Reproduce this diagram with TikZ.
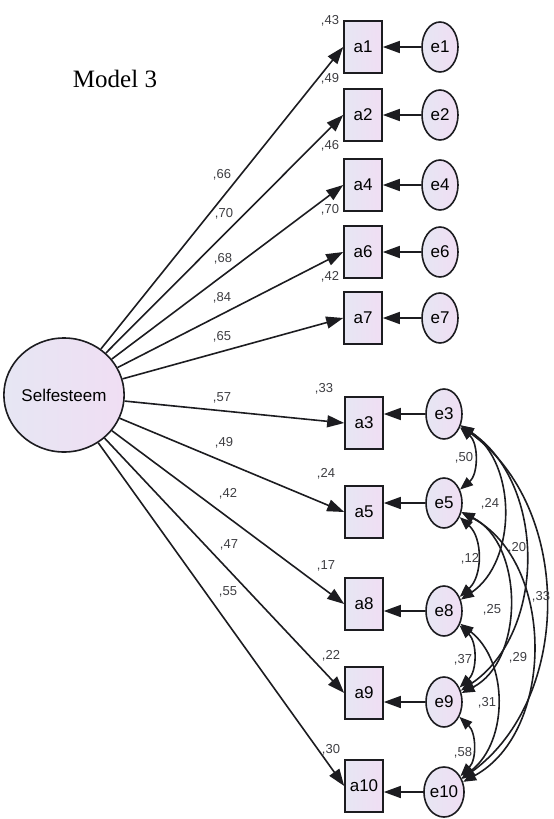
\documentclass[tikz,border=0pt]{standalone}
\usepackage{fontspec}
\setmainfont{Liberation Sans}
\newfontfamily\titlefont{Liberation Serif}
\usetikzlibrary{shapes.geometric,arrows.meta}
\definecolor{lavl}{RGB}{230,230,243}
\definecolor{lavr}{RGB}{240,222,243}
\definecolor{ink}{RGB}{28,28,32}
\newcommand{\nodefont}{\fontsize{17}{17}\selectfont}
\newcommand{\numfont}{\fontsize{13}{13}\selectfont}

\begin{document}
\begin{tikzpicture}[x=1pt,y=1pt,
		obs/.style={draw=ink, line width=1.6pt, left color=lavl, right color=lavr, minimum width=38pt, minimum height=52pt, inner sep=0pt, font=\nodefont},
		err/.style={ellipse, draw=ink, line width=1.6pt, left color=lavl, right color=lavr, minimum width=36pt, minimum height=50pt, inner sep=0pt, font=\nodefont},
		num/.style={font=\numfont, text=ink!85, inner sep=1pt},
		loading/.style={-{Triangle[length=17pt,width=12pt]}, line width=1.6pt, ink},
		cov/.style={{Triangle[length=13pt,width=10pt]}-{Triangle[length=13pt,width=10pt]}, line width=1.6pt, ink, looseness=1}]
		\useasboundingbox (0,0) rectangle (554,-819);

		\node[font=\titlefont\fontsize{25}{25}\selectfont] (title) at (115,-79) {Model 3};

		% latent factor
		\node[ellipse, draw=ink, line width=1.6pt, left color=lavl, right color=lavr, minimum width=102pt, minimum height=114pt, inner sep=0pt, font=\nodefont] (self) at (64,-395) {Selfesteem};

		% indicators
		\node[obs] (a1) at (363,-47) {a1};
		\node[obs] (a2) at (363,-115) {a2};
		\node[obs] (a4) at (363,-185) {a4};
		\node[obs] (a6) at (363,-252) {a6};
		\node[obs] (a7) at (363,-318) {a7};
		\node[obs] (a3) at (364,-423) {a3};
		\node[obs] (a5) at (364,-512) {a5};
		\node[obs] (a8) at (364,-604) {a8};
		\node[obs] (a9) at (364,-693) {a9};
		\node[obs] (a10) at (364,-786) {a10};

		% errors
		\node[err] (e1) at (440,-47) {e1};
		\node[err] (e2) at (440,-115) {e2};
		\node[err] (e4) at (440,-185) {e4};
		\node[err] (e6) at (440,-252) {e6};
		\node[err] (e7) at (440,-318) {e7};
		\node[err] (e3) at (444,-414) {e3};
		\node[err] (e5) at (444,-503) {e5};
		\node[err] (e8) at (444,-611) {e8};
		\node[err] (e9) at (444,-702) {e9};
		\node[err] (e10) at (444,-792) {e10};

		% loadings
		\draw[loading] (self) -- (a1.west);
		\draw[loading] (self) -- (a2.west);
		\draw[loading] (self) -- (a4.west);
		\draw[loading] (self) -- (a6.west);
		\draw[loading] (self) -- (a7.west);
		\draw[loading] (self) -- (a3.west);
		\draw[loading] (self) -- (a5.west);
		\draw[loading] (self) -- (a8.west);
		\draw[loading] (self) -- (a9.west);
		\draw[loading] (self) -- (a10.west);

		\node[num] (pa1) at (222,-175) {,66};
		\node[num] (pa2) at (224,-214) {,70};
		\node[num] (pa4) at (223,-259) {,68};
		\node[num] (pa6) at (222,-298) {,84};
		\node[num] (pa7) at (222,-337) {,65};
		\node[num] (pa3) at (222,-398) {,57};
		\node[num] (pa5) at (224,-443) {,49};
		\node[num] (pa8) at (228,-494) {,42};
		\node[num] (pa9) at (229,-545) {,47};
		\node[num] (pa10) at (228,-592) {,55};

		% error paths
		\draw[loading] (e1) -- (a1);
		\draw[loading] (e2) -- (a2);
		\draw[loading] (e4) -- (a4);
		\draw[loading] (e6) -- (a6);
		\draw[loading] (e7) -- (a7);
		\draw[loading] (e3) -- (e3 -| a3.east);
		\draw[loading] (e5) -- (e5 -| a5.east);
		\draw[loading] (e8) -- (e8 -| a8.east);
		\draw[loading] (e9) -- (e9 -| a9.east);
		\draw[loading] (e10) -- (e10 -| a10.east);

		% squared multiple correlations
		\node[num, anchor=east] (va1) at ([xshift=-3pt,yshift=-1pt]a1.north west) {,43};
		\node[num, anchor=south east] (va2) at ([xshift=-3pt,yshift=3pt]a2.north west) {,49};
		\node[num, anchor=south east] (va4) at ([xshift=-3pt,yshift=6pt]a4.north west) {,46};
		\node[num, anchor=south east] (va6) at ([xshift=-3pt,yshift=9pt]a6.north west) {,70};
		\node[num, anchor=south east] (va7) at ([xshift=-3pt,yshift=8pt]a7.north west) {,42};
		\node[num, anchor=south east] (va3) at ([xshift=-10pt,yshift=1pt]a3.north west) {,33};
		\node[num, anchor=south east] (va5) at ([xshift=-8pt,yshift=5pt]a5.north west) {,24};
		\node[num, anchor=south east] (va8) at ([xshift=-8pt,yshift=5pt]a8.north west) {,17};
		\node[num, anchor=south east] (va9) at ([xshift=-3pt,yshift=4pt]a9.north west) {,22};
		\node[num, anchor=south east] (va10) at ([xshift=-3pt,yshift=3pt]a10.north west) {,30};

		% error covariances
		\draw[cov] (e3) to[bend left=50] (e5);
		\draw[cov] (e3) to[bend left=56] (e8);
		\draw[cov] (e3) to[bend left=56] (e9);
		\draw[cov] (e3) to[bend left=54] (e10);
		\draw[cov] (e5) to[bend left=48] (e8);
		\draw[cov] (e5) to[bend left=63] (e9);
		\draw[cov] (e5) to[bend left=62] (e10);
		\draw[cov] (e8) to[bend left=47] (e9);
		\draw[cov] (e8) to[bend left=52] (e10);
		\draw[cov] (e9) to[bend left=46] (e10);

		\node[num] (c35) at (464,-458) {,50};
		\node[num] (c38) at (490,-504) {,24};
		\node[num] (c39) at (517,-548) {,20};
		\node[num] (c58) at (470,-559) {,12};
		\node[num] (c310) at (541,-597) {,33};
		\node[num] (c59) at (492,-610) {,25};
		\node[num] (c89) at (463,-660) {,37};
		\node[num] (c510) at (518,-658) {,29};
		\node[num] (c810) at (487,-703) {,31};
		\node[num] (c910) at (463,-753) {,58};
	\end{tikzpicture}
\end{document}
